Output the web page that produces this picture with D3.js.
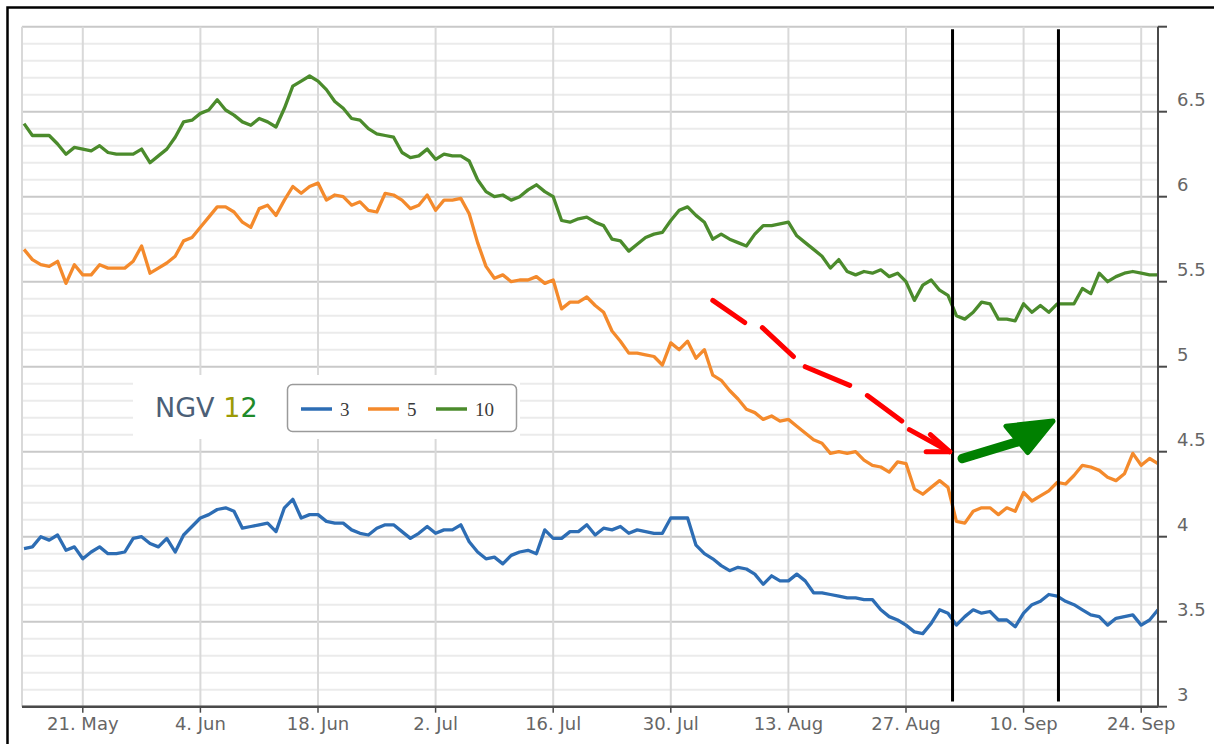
<!DOCTYPE html>
<html lang="en">
<head>
<meta charset="UTF-8">
<title>NGV 12</title>
<script src="https://d3js.org/d3.v7.min.js"></script>
<style>
    body { margin: 0; background: #fff; }
    svg { display: block; }
    .tick-label { font-family: "DejaVu Sans", sans-serif; font-size: 18px; fill: #666; }
</style>
</head>
<body>
<svg id="chart"></svg>
<script>
// daily values, first point 14 May 2012, last point 26 Sep 2012
const startDay = Date.UTC(2012, 4, 14);
const endDay = Date.UTC(2012, 8, 26);

const seriesNames = ["3", "5", "10"];

const yield3 = [
    3.93, 3.94, 4.00, 3.98, 4.01, 3.92, 3.94, 3.87, 3.91, 3.94,
    3.90, 3.90, 3.91, 3.99, 4.00, 3.96, 3.94, 3.99, 3.91, 4.01,
    4.06, 4.11, 4.13, 4.16, 4.17, 4.15, 4.05, 4.06, 4.07, 4.08,
    4.03, 4.17, 4.22, 4.11, 4.13, 4.13, 4.09, 4.08, 4.08, 4.04,
    4.02, 4.01, 4.05, 4.07, 4.07, 4.03, 3.99, 4.02, 4.06, 4.02,
    4.04, 4.04, 4.07, 3.97, 3.91, 3.87, 3.88, 3.84, 3.89, 3.91,
    3.92, 3.90, 4.04, 3.99, 3.99, 4.03, 4.03, 4.07, 4.01, 4.05,
    4.04, 4.06, 4.02, 4.04, 4.03, 4.02, 4.02, 4.11, 4.11, 4.11,
    3.95, 3.90, 3.87, 3.83, 3.80, 3.82, 3.81, 3.78, 3.72, 3.77,
    3.74, 3.74, 3.78, 3.74, 3.67, 3.67, 3.66, 3.65, 3.64, 3.64,
    3.63, 3.63, 3.57, 3.53, 3.51, 3.48, 3.44, 3.43, 3.49, 3.57,
    3.55, 3.48, 3.53, 3.57, 3.55, 3.56, 3.51, 3.51, 3.47, 3.55,
    3.60, 3.62, 3.66, 3.65, 3.62, 3.60, 3.57, 3.54, 3.53, 3.48,
    3.52, 3.53, 3.54, 3.48, 3.51, 3.57
];

const yield5 = [
    5.69, 5.63, 5.60, 5.59, 5.62, 5.49, 5.60, 5.54, 5.54, 5.60,
    5.58, 5.58, 5.58, 5.62, 5.71, 5.55, 5.58, 5.61, 5.65, 5.74,
    5.76, 5.82, 5.88, 5.94, 5.94, 5.91, 5.85, 5.82, 5.93, 5.95,
    5.89, 5.98, 6.06, 6.02, 6.06, 6.08, 5.98, 6.01, 6.00, 5.95,
    5.97, 5.92, 5.91, 6.02, 6.01, 5.98, 5.93, 5.95, 6.01, 5.92,
    5.98, 5.98, 5.99, 5.90, 5.73, 5.59, 5.52, 5.54, 5.50, 5.51,
    5.51, 5.53, 5.49, 5.51, 5.34, 5.38, 5.38, 5.41, 5.36, 5.32,
    5.21, 5.15, 5.08, 5.08, 5.07, 5.06, 5.01, 5.14, 5.10, 5.15,
    5.05, 5.10, 4.95, 4.92, 4.86, 4.81, 4.75, 4.73, 4.69, 4.71,
    4.68, 4.69, 4.65, 4.61, 4.57, 4.55, 4.49, 4.50, 4.49, 4.50,
    4.45, 4.42, 4.41, 4.38, 4.44, 4.43, 4.28, 4.25, 4.29, 4.33,
    4.29, 4.09, 4.08, 4.15, 4.17, 4.17, 4.13, 4.17, 4.15, 4.26,
    4.21, 4.24, 4.27, 4.32, 4.31, 4.36, 4.42, 4.41, 4.39, 4.35,
    4.33, 4.37, 4.49, 4.42, 4.46, 4.43
];

const yield10 = [
    6.43, 6.36, 6.36, 6.36, 6.31, 6.25, 6.29, 6.28, 6.27, 6.30,
    6.26, 6.25, 6.25, 6.25, 6.28, 6.20, 6.24, 6.28, 6.35, 6.44,
    6.45, 6.49, 6.51, 6.57, 6.51, 6.48, 6.44, 6.42, 6.46, 6.44,
    6.41, 6.52, 6.65, 6.68, 6.71, 6.68, 6.63, 6.56, 6.52, 6.46,
    6.45, 6.40, 6.37, 6.36, 6.35, 6.26, 6.23, 6.24, 6.28, 6.22,
    6.25, 6.24, 6.24, 6.21, 6.10, 6.03, 6.00, 6.01, 5.98, 6.00,
    6.04, 6.07, 6.03, 6.00, 5.86, 5.85, 5.87, 5.88, 5.85, 5.83,
    5.75, 5.74, 5.68, 5.72, 5.76, 5.78, 5.79, 5.86, 5.92, 5.94,
    5.89, 5.85, 5.75, 5.78, 5.75, 5.73, 5.71, 5.78, 5.83, 5.83,
    5.84, 5.85, 5.77, 5.73, 5.69, 5.65, 5.58, 5.63, 5.56, 5.54,
    5.56, 5.55, 5.57, 5.53, 5.55, 5.50, 5.39, 5.48, 5.51, 5.45,
    5.42, 5.30, 5.28, 5.32, 5.38, 5.37, 5.28, 5.28, 5.27, 5.37,
    5.32, 5.36, 5.32, 5.37, 5.37, 5.37, 5.46, 5.43, 5.55, 5.50,
    5.53, 5.55, 5.56, 5.55, 5.54, 5.54
];

const seriesColors = ["#2d6db4", "#f48a2c", "#4b8b2c"];

const xTickDates = [
    Date.UTC(2012, 4, 21), Date.UTC(2012, 5, 4), Date.UTC(2012, 5, 18),
    Date.UTC(2012, 6, 2), Date.UTC(2012, 6, 16), Date.UTC(2012, 6, 30),
    Date.UTC(2012, 7, 13), Date.UTC(2012, 7, 27), Date.UTC(2012, 8, 10),
    Date.UTC(2012, 8, 24)
];
const yTickValues = [3, 3.5, 4, 4.5, 5, 5.5, 6, 6.5, 7];

// hand-drawn marks, [days after 14 May, yield]
const markerLines = [110.54, 123.15];
const redDashes = [
    [[82.0, 5.39], [85.8, 5.26]],
    [[87.9, 5.23], [91.6, 5.06]],
    [[93.0, 5.00], [98.3, 4.89]],
    [[100.4, 4.83], [104.5, 4.68]],
    [[105.4, 4.63], [110.2, 4.50]],
    [[107.9, 4.60], [110.2, 4.50]],
    [[107.4, 4.50], [110.2, 4.50]]
];
const greenShaft = [[111.7, 4.46], [120.4, 4.59]];
const greenHead = [[116.9, 4.65], [122.5, 4.68], [119.5, 4.495]];

const W = 1214, H = 744;
const plot = { left: 22, right: 1158, top: 26.7, bottom: 706.7 };

const svg = d3.select("#chart").attr("width", W).attr("height", H);

const x = d3.scaleUtc().domain([startDay, endDay]).range([24, plot.right]);
const y = d3.scaleLinear().domain([3, 7]).range([plot.bottom, plot.top]);
const dayX = t => x(startDay + t * 864e5);

const dates = d3.utcDay.range(startDay, endDay + 1);

// outer frame (continues past the cropped right and bottom edges)
svg.append("rect")
    .attr("x", 7.5).attr("y", 7.5)
    .attr("width", W + 20).attr("height", H + 20)
    .attr("fill", "#fff").attr("stroke", "#000").attr("stroke-width", 2.5);

// horizontal grid: minor every 0.1, major every 0.5
const grid = svg.append("g");
d3.range(30, 71).forEach(i => {
    const v = i / 10;
    const major = i % 5 === 0;
    grid.append("line")
        .attr("x1", plot.left).attr("x2", plot.right)
        .attr("y1", y(v)).attr("y2", y(v))
        .attr("stroke", major ? "#c9c9c9" : "#ebebeb")
        .attr("stroke-width", 2);
});

// vertical grid
xTickDates.forEach(d => {
    grid.append("line")
        .attr("x1", x(d)).attr("x2", x(d))
        .attr("y1", plot.top).attr("y2", plot.bottom)
        .attr("stroke", "#d9d9d9").attr("stroke-width", 2);
});
grid.append("line")
    .attr("x1", plot.left).attr("x2", plot.left)
    .attr("y1", plot.top).attr("y2", plot.bottom)
    .attr("stroke", "#d9d9d9").attr("stroke-width", 2);

// title and legend sit on a white panel
svg.append("rect")
    .attr("x", 133).attr("y", 375).attr("width", 387).attr("height", 64)
    .attr("fill", "#fff");

const title = svg.append("text")
    .attr("x", 155).attr("y", 417)
    .attr("font-family", "DejaVu Sans, sans-serif")
    .attr("font-size", 27);
title.append("tspan").attr("fill", "#4c5f77").text("NGV ");
title.append("tspan").attr("fill", "#9c9a06").text("1");
title.append("tspan").attr("fill", "#1f8a2a").text("2");

const legend = svg.append("g");
legend.append("rect")
    .attr("x", 287.5).attr("y", 384.5).attr("width", 229).attr("height", 47)
    .attr("rx", 5).attr("fill", "#fff")
    .attr("stroke", "#9a9a9a").attr("stroke-width", 1.5);
const legendX = [301, 368, 436];
seriesNames.forEach((name, i) => {
    legend.append("line")
        .attr("x1", legendX[i]).attr("x2", legendX[i] + 31)
        .attr("y1", 409).attr("y2", 409)
        .attr("stroke", seriesColors[i]).attr("stroke-width", 3.5);
    legend.append("text")
        .attr("x", legendX[i] + 39).attr("y", 415.5)
        .attr("font-family", "Liberation Serif, serif")
        .attr("font-size", 19)
        .attr("fill", "#3a3a3a")
        .text(name);
});

// series
const line = d3.line()
    .x((d, i) => x(dates[i]))
    .y(d => y(d));

[yield3, yield5, yield10].forEach((values, i) => {
    svg.append("path")
        .datum(values)
        .attr("fill", "none")
        .attr("stroke", seriesColors[i])
        .attr("stroke-width", 3.3)
        .attr("stroke-linejoin", "round")
        .attr("d", line);
});

// x axis
svg.append("line")
    .attr("x1", plot.left).attr("x2", plot.right)
    .attr("y1", plot.bottom).attr("y2", plot.bottom)
    .attr("stroke", "#4a4a4a").attr("stroke-width", 2.5);
const fmt = d3.utcFormat("%-d. %b");
xTickDates.forEach(d => {
    svg.append("line")
        .attr("x1", x(d)).attr("x2", x(d))
        .attr("y1", plot.bottom).attr("y2", plot.bottom + 6)
        .attr("stroke", "#4a4a4a").attr("stroke-width", 1.5);
    svg.append("text")
        .attr("class", "tick-label")
        .attr("x", x(d)).attr("y", 730)
        .attr("text-anchor", "middle")
        .text(fmt(d));
});

// right y axis
svg.append("line")
    .attr("x1", plot.right).attr("x2", plot.right)
    .attr("y1", plot.top).attr("y2", plot.bottom)
    .attr("stroke", "#4a4a4a").attr("stroke-width", 2);
yTickValues.forEach(v => {
    svg.append("line")
        .attr("x1", plot.right).attr("x2", plot.right + 9)
        .attr("y1", y(v)).attr("y2", y(v))
        .attr("stroke", "#4a4a4a").attr("stroke-width", 2);
    if (v < 7) {
        svg.append("text")
            .attr("class", "tick-label")
            .attr("x", 1177).attr("y", y(v) - 5.5)
            .text(String(v));
    }
});

// vertical marker lines
markerLines.forEach(t => {
    svg.append("line")
        .attr("x1", dayX(t)).attr("x2", dayX(t))
        .attr("y1", y(6.985)).attr("y2", y(3.03))
        .attr("stroke", "#000").attr("stroke-width", 3);
});

// red dashed arrow
redDashes.forEach(seg => {
    svg.append("line")
        .attr("x1", dayX(seg[0][0])).attr("y1", y(seg[0][1]))
        .attr("x2", dayX(seg[1][0])).attr("y2", y(seg[1][1]))
        .attr("stroke", "#ff0000").attr("stroke-width", 5)
        .attr("stroke-linecap", "round");
});

// green arrow
svg.append("line")
    .attr("x1", dayX(greenShaft[0][0])).attr("y1", y(greenShaft[0][1]))
    .attr("x2", dayX(greenShaft[1][0])).attr("y2", y(greenShaft[1][1]))
    .attr("stroke", "#008000").attr("stroke-width", 9.5)
    .attr("stroke-linecap", "round");
svg.append("polygon")
    .attr("points", greenHead.map(p => dayX(p[0]) + "," + y(p[1])).join(" "))
    .attr("fill", "#008000").attr("stroke", "#008000")
    .attr("stroke-width", 5).attr("stroke-linejoin", "round");
</script>
</body>
</html>
